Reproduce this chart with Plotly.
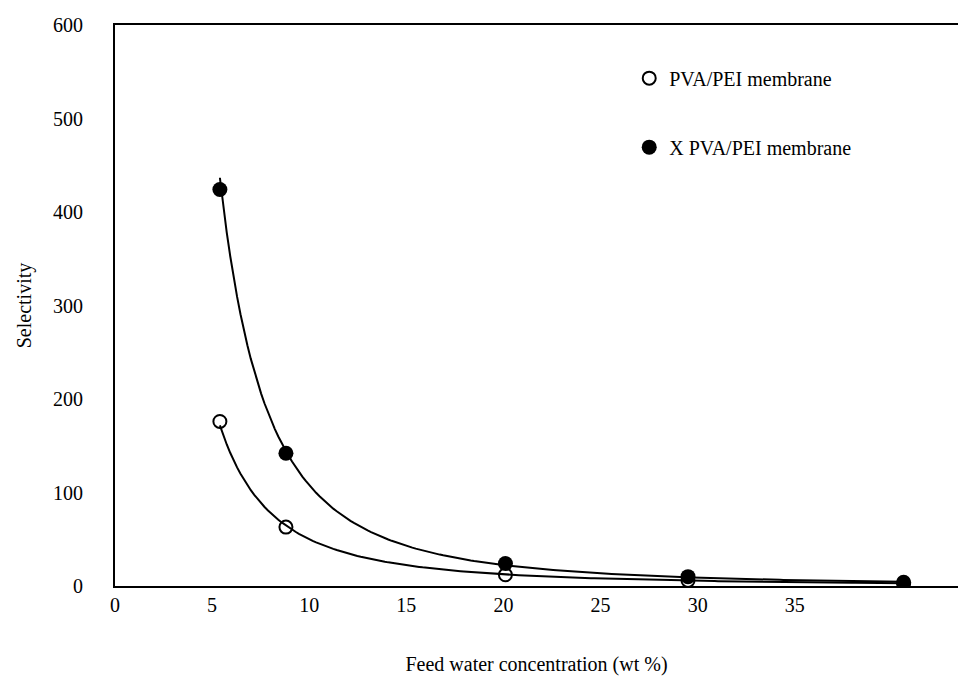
import numpy as np
import plotly.graph_objects as go

# Data
feed_x_open = [5.4, 8.8, 20.1, 29.5, 40.6]
sel_open = [176, 63, 12, 6, 3]
feed_x_fill = [5.4, 8.8, 20.1, 29.5, 40.6]
sel_fill = [424, 142, 24, 10, 4]
x_ticks = [0, 5, 10, 15, 20, 25, 30, 35]
y_ticks = [0, 100, 200, 300, 400, 500, 600]
name_open = "PVA/PEI membrane"
name_fill = "X PVA/PEI membrane"


def power_trend(xs, ys):
    xs = np.asarray(xs, float)
    ys = np.asarray(ys, float)
    b, lna = np.polyfit(np.log(xs), np.log(ys), 1)
    xx = np.linspace(xs.min(), xs.max(), 200)
    return xx, np.exp(lna) * xx ** b


font = "Liberation Serif, Times New Roman, serif"
fig = go.Figure()

for xs, ys in [(feed_x_open, sel_open), (feed_x_fill, sel_fill)]:
    tx, ty = power_trend(xs, ys)
    fig.add_trace(go.Scatter(x=tx, y=ty, mode="lines",
                             line=dict(color="black", width=2),
                             showlegend=False, hoverinfo="skip"))

fig.add_trace(go.Scatter(x=feed_x_open, y=sel_open, mode="markers", name=name_open,
                         legendgroup="a",
                         marker=dict(symbol="circle-open", size=13, color="black",
                                     line=dict(width=2, color="black"))))
fig.add_trace(go.Scatter(x=feed_x_fill, y=sel_fill, mode="markers", name=name_fill,
                         legendgroup="b",
                         marker=dict(symbol="circle", size=15, color="black")))

fig.update_layout(
    width=958, height=679,
    margin=dict(l=115, r=0, t=25, b=93),
    paper_bgcolor="white", plot_bgcolor="white",
    font=dict(family=font, size=20, color="black"),
    legend=dict(x=0.61, y=0.94, xanchor="left", yanchor="top",
                font=dict(size=20, family=font), tracegroupgap=40,
                bgcolor="rgba(0,0,0,0)"),
    xaxis=dict(range=[0, 43.4], tickvals=x_ticks, ticktext=[str(v) for v in x_ticks],
               showgrid=False, zeroline=False, showline=True, linecolor="black",
               linewidth=2, mirror=True, ticks="",
               title=dict(text="Feed water concentration (wt %)", standoff=42,
                          font=dict(size=20))),
    yaxis=dict(range=[0, 600], tickvals=y_ticks, showgrid=False, zeroline=False,
               showline=True, linecolor="black", linewidth=2, ticks="",
               ticklabelstandoff=26,
               title=dict(text="Selectivity", standoff=16, font=dict(size=20))),
)

fig.write_html(
    "out.html",
    config={"displayModeBar": False},
    post_script="document.body.style.margin='0';document.body.style.overflow='hidden';",
)
